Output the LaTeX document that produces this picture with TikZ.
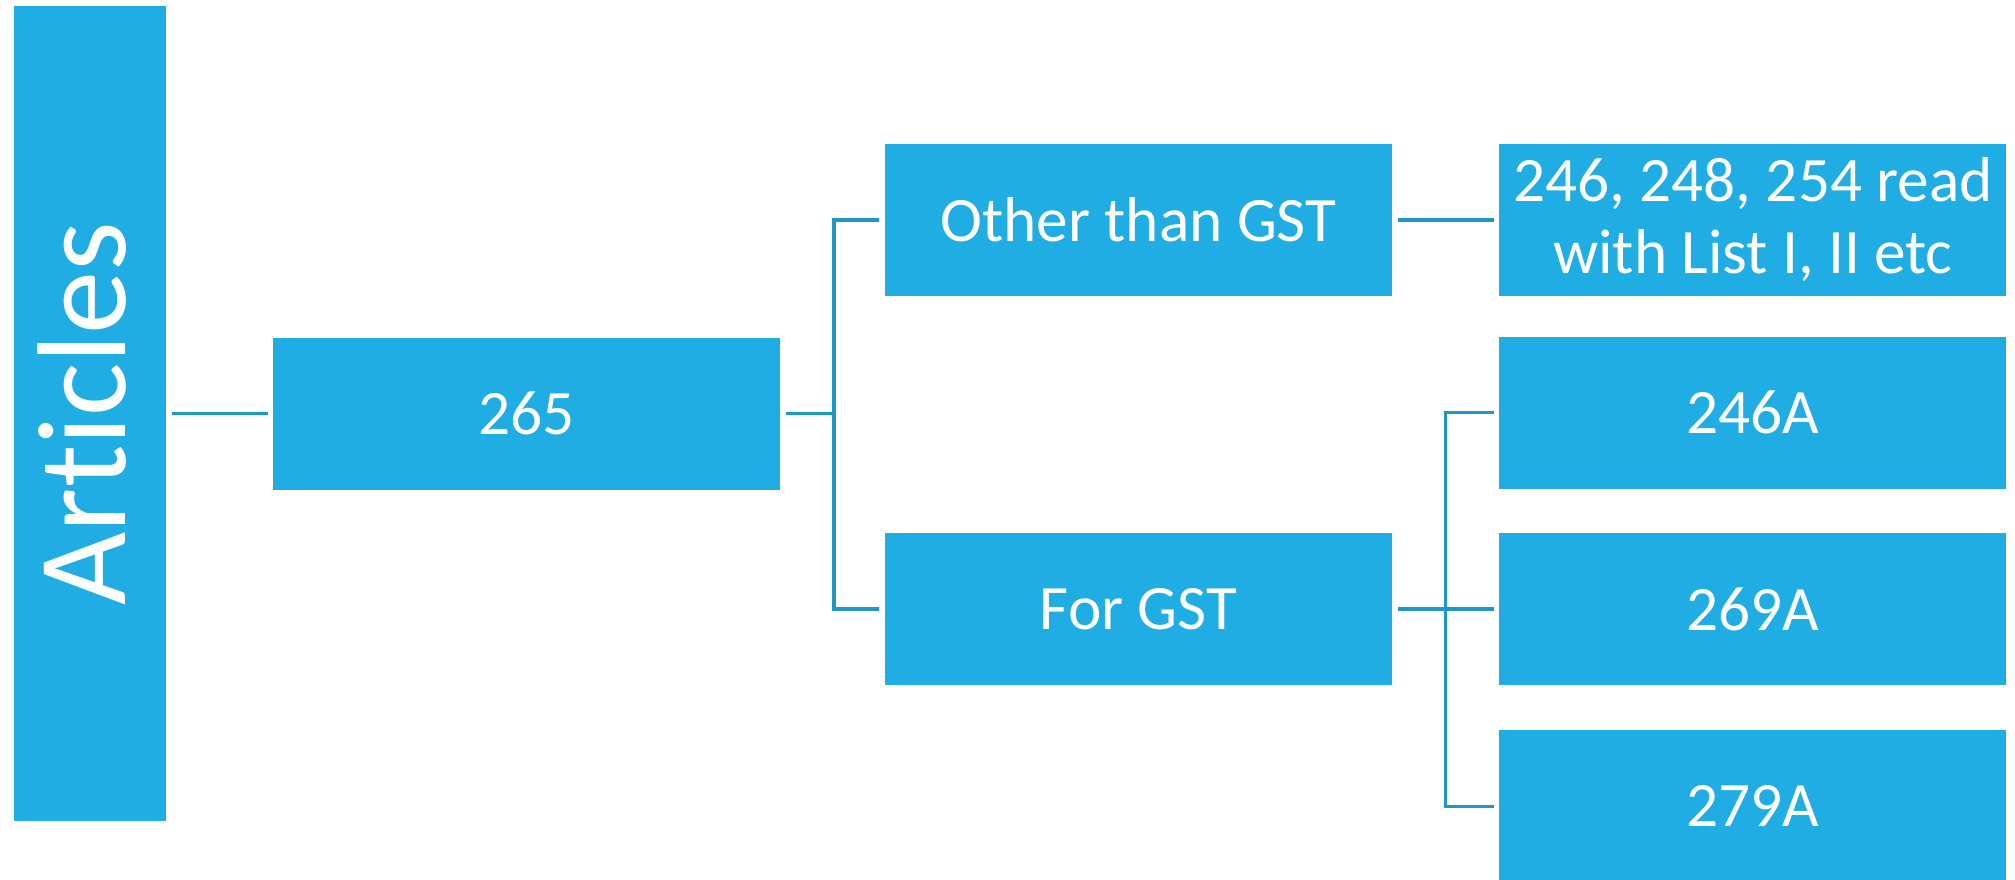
\documentclass[tikz,border=0pt]{standalone}
\usepackage{fontspec}
\setmainfont[Ligatures=NoCommon]{Carlito}
\usepackage{tikz}
\definecolor{boxblue}{RGB}{31,173,227}
\definecolor{linkblue}{RGB}{30,150,200}
\usetikzlibrary{positioning,calc}
\tikzset{item/.style={rectangle, fill=boxblue, text=white, align=center, inner sep=0pt,
 minimum width=5.07cm, minimum height=1.52cm, font=\fontsize{18}{20.5}\selectfont}}
\tikzset{head/.style={rectangle, fill=boxblue, text=white, inner sep=0pt,
 minimum width=1.52cm, minimum height=8.15cm, font=\fontsize{36}{40}\selectfont}}
\tikzset{line/.style={draw=linkblue, line width=1pt, shorten <=0.05cm, shorten >=0.05cm}}

\begin{document}
\begin{tikzpicture}
        \useasboundingbox (0,0) rectangle (20.15,-8.79);
        \node[head] (art) at (0.90,-4.135) {\rotatebox{90}{\raisebox{0.16cm}{Articles}}};
        \node[item, right=1.06cm of art] (n265) {265};
        \node[item] (othr) at (11.385,-2.20) {Other than GST};
        \node[item] (fgst) at (11.385,-6.09) {For GST};
        \node[item, right=1.06cm of othr] (list) {246, 248, 254 read\\with List I, II etc};
        \node[item, right=1.06cm of fgst] (a269) {269A};
        \node[item, above=0.43cm of a269] (a246) {246A};
        \node[item, below=0.44cm of a269] (a279) {279A};

        \coordinate (j1) at ($(n265.east)+(0.53,0)$);
        \coordinate (j2) at ($(fgst.east)+(0.53,0)$);

        \path[line] (art) --            (n265);
        \path[line, shorten >=0pt] (n265.east) -- (j1);
        \path[line] (othr.west) -| (j1) |- (fgst.west);
        \path[line] (othr) --           (list);
        \path[line] (fgst) --           (a269);
        \path[line] (a246.west) -| (j2) |- (a279.west);
      \end{tikzpicture}
\end{document}
